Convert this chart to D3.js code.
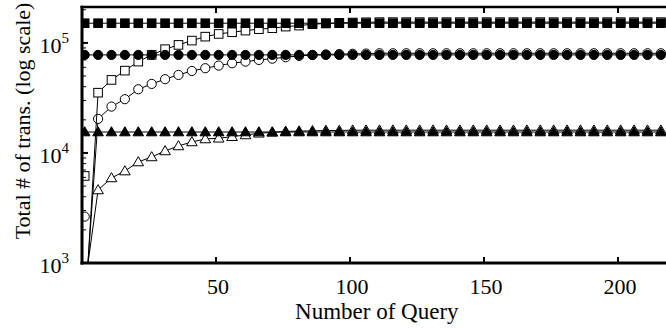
<!DOCTYPE html>
<html><head><meta charset="utf-8">
<script src="https://cdn.jsdelivr.net/npm/d3@7"></script>
<style>body{margin:0;background:#fff}svg{display:block}text{font-family:"Liberation Serif","Times New Roman",serif;fill:#000}</style>
</head><body><svg id="c" width="666" height="329"></svg>
<script>
// Number of queries at which markers are plotted
const queryX = [1,6,11,16,21,26,31,36,41,46,51,56,61,66,71,76,81,86,91,96,101,106,111,116,121,126,131,136,141,146,151,156,161,166,171,176,181,186,191,196,201,206,211,216];
// Filled series (constant)
const filledSquare = [151000,151000,151000,151000,151000,151000,151000,151000,151000,151000,151000,151000,151000,151000,151000,151000,151000,151000,151000,151000,151000,151000,151000,151000,151000,151000,151000,151000,151000,151000,151000,151000,151000,151000,151000,151000,151000,151000,151000,151000,151000,151000,151000,151000];
const filledCircle = [77800,77800,77800,77800,77800,77800,77800,77800,77800,77800,77800,77800,77800,77800,77800,77800,77800,77800,77800,77800,77800,77800,77800,77800,77800,77800,77800,77800,77800,77800,77800,77800,77800,77800,77800,77800,77800,77800,77800,77800,77800,77800,77800,77800];
const filledTriangle = [15500,15500,15500,15500,15500,15500,15500,15500,15500,15500,15500,15500,15500,15500,15500,15500,15500,15500,15500,15500,15500,15500,15500,15500,15500,15500,15500,15500,15500,15500,15500,15500,15500,15500,15500,15500,15500,15500,15500,15500,15500,15500,15500,15500];
// Open series (cumulative, rising)
const openSquare = [6180,35300,46100,56000,67600,77800,87700,95900,105000,114000,120700,125000,129400,133300,136100,140700,143700,147900,150200,152000,153200,154000,154500,154500,154500,154500,154500,154500,154500,154500,154500,154500,154500,154500,154500,154500,154500,154500,154500,154500,154500,154500,154500,154500];
const openCircle = [2640,20400,26400,30800,37900,42400,46800,51200,55600,58900,62200,65400,67600,70000,71900,74100,76200,77500,78500,79200,79600,80000,80500,80500,80500,80500,80500,80500,80500,80500,80500,80500,80500,80500,80500,80500,80500,80500,80500,80500,80500,80500,80500,80500];
const openTriangle = [600,4610,5930,6850,8280,9200,10430,11580,12590,13400,13600,14060,14580,15100,15400,15700,15800,15900,16000,16000,16100,16100,16100,16100,16100,16100,16100,16100,16100,16100,16100,16100,16100,16100,16100,16100,16100,16100,16100,16100,16100,16100,16100,16100];
// Value at query 1 where each open series' line starts
const openLineStart = {square: 313, circle: 374, triangle: 600};
const xTicks = [50,100,150,200];
const yTicks = [1000,10000,100000];
const yTickExp = ["3","4","5"];
const xTitle = "Number of Query";
const yTitle = "Total # of trans. (log scale)";

const svg = d3.select("#c");
const L = 82, R = 671.6, T = 7, B = 263;
const x = d3.scaleLinear().domain([0,220]).range([L,R]);
const y = d3.scaleLog().domain([1000,212000]).range([B,T]);

svg.append("defs").append("clipPath").attr("id","clip")
  .append("rect").attr("x",L).attr("y",T).attr("width",R-L).attr("height",B-T);

const plot = svg.append("g").attr("clip-path","url(#clip)");
const line = d3.line().x(d=>x(d[0])).y(d=>y(d[1]));

function series(vals, shape, filled, start){
  const pts = queryX.map((q,i)=>[q, vals[i]]);
  const lpts = start!==undefined ? [[queryX[0], start]].concat(pts.slice(1)) : pts;
  plot.append("path").attr("d", line(lpts)).attr("fill","none").attr("stroke","#000").attr("stroke-width",1);
  const g = plot.append("g");
  const fill = filled ? "#000" : "#fff";
  pts.forEach(p=>{
    const cx = x(p[0]), cy = y(p[1]);
    if (shape==="square") {
      g.append("rect").attr("x",cx-4.3).attr("y",cy-4.3).attr("width",8.6).attr("height",8.6)
        .attr("fill",fill).attr("stroke","#000").attr("stroke-width",1);
    } else if (shape==="circle") {
      g.append("circle").attr("cx",cx).attr("cy",cy).attr("r",4.6)
        .attr("fill",fill).attr("stroke","#000").attr("stroke-width",1);
    } else {
      g.append("path").attr("d",`M${cx},${cy-5.3}L${cx+5.3},${cy+3.8}L${cx-5.3},${cy+3.8}Z`)
        .attr("fill",fill).attr("stroke","#000").attr("stroke-width",1);
    }
  });
}
series(openTriangle, "triangle", false, openLineStart.triangle);
series(openCircle, "circle", false, openLineStart.circle);
series(openSquare, "square", false, openLineStart.square);
series(filledTriangle, "triangle", true);
series(filledCircle, "circle", true);
series(filledSquare, "square", true);

// frame
svg.append("line").attr("x1",L-1.5).attr("x2",666).attr("y1",T).attr("y2",T).attr("stroke","#000").attr("stroke-width",2.6);
svg.append("line").attr("x1",L-1.5).attr("x2",666).attr("y1",B).attr("y2",B).attr("stroke","#000").attr("stroke-width",3);
svg.append("line").attr("x1",L).attr("x2",L).attr("y1",T-1.3).attr("y2",B+1.5).attr("stroke","#000").attr("stroke-width",3);

// x ticks
xTicks.forEach(t=>{
  svg.append("line").attr("x1",x(t)).attr("x2",x(t)).attr("y1",B).attr("y2",B-6).attr("stroke","#000").attr("stroke-width",2);
  svg.append("line").attr("x1",x(t)).attr("x2",x(t)).attr("y1",T).attr("y2",T+6).attr("stroke","#000").attr("stroke-width",2);
  svg.append("text").attr("x",x(t)+2).attr("y",294).attr("text-anchor","middle").attr("font-size",22).text(t);
});
// y ticks (major + minor)
yTicks.forEach((t,i)=>{
  svg.append("line").attr("x1",L).attr("x2",L+6).attr("y1",y(t)).attr("y2",y(t)).attr("stroke","#000").attr("stroke-width",2);
  const tx = svg.append("text").attr("x",69).attr("y",y(t)+10).attr("text-anchor","end").attr("font-size",22);
  tx.append("tspan").text("10");
  tx.append("tspan").attr("font-size",15).attr("dy",-10).text(yTickExp[i]);
  if (i < yTicks.length-1) {
    for (let m=2; m<=9; m++) {
      const v = t*m;
      svg.append("line").attr("x1",L).attr("x2",L+4).attr("y1",y(v)).attr("y2",y(v)).attr("stroke","#000").attr("stroke-width",1);
    }
  }
});
[200000].forEach(v=>svg.append("line").attr("x1",L).attr("x2",L+4).attr("y1",y(v)).attr("y2",y(v)).attr("stroke","#000").attr("stroke-width",1));

svg.append("text").attr("x",(L+R)/2).attr("y",319).attr("text-anchor","middle").attr("font-size",23).text(xTitle);
svg.append("text").attr("transform",`translate(30,121) rotate(-90)`).attr("text-anchor","middle").attr("font-size",22).text(yTitle);
</script></body></html>
